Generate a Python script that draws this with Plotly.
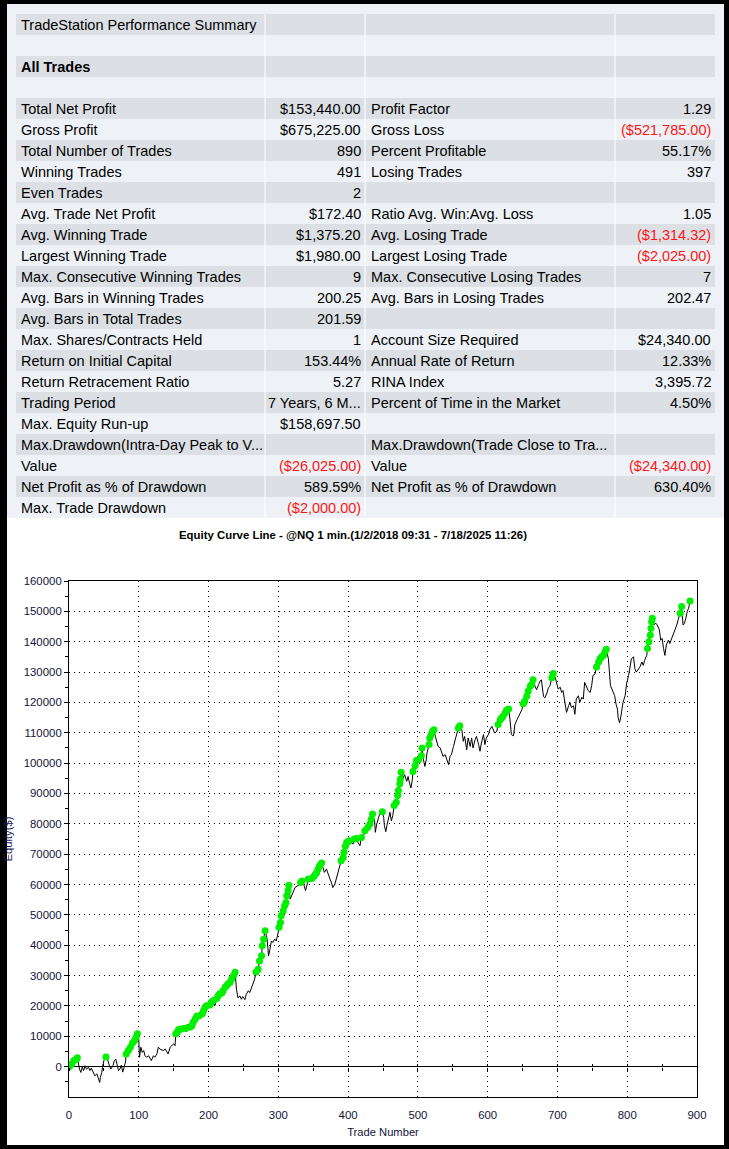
import numpy as np
import plotly.graph_objects as go

W, H = 729, 1149

# ---------------- data: equity curve (trade number, cumulative equity $) ----------------
trade_number = [
    0, 1, 4, 7, 11, 12, 15, 17, 19, 21, 23, 25, 28, 30, 32, 35, 37, 40, 42, 44, 45, 47, 48, 50,
    53, 55, 58, 60, 63, 65, 67, 69, 71, 73, 75, 77, 79, 81, 82, 85, 88, 91, 94, 96, 98, 100,
    101, 103, 105, 107, 109, 111, 114, 116, 118, 121, 123, 126, 128, 130, 133, 135, 138, 140,
    142, 145, 147, 150, 152, 153, 155, 157, 160, 163, 166, 169, 171, 174, 176, 178, 181, 183,
    187, 189, 191, 193, 195, 197, 200, 202, 204, 207, 209, 212, 214, 216, 219, 221, 224, 226,
    228, 231, 233, 236, 238, 240, 242, 245, 247, 249, 252, 254, 257, 259, 261, 264, 266, 268,
    271, 273, 276, 277, 279, 281, 284, 286, 288, 290, 292, 295, 297, 300, 301, 303, 304, 307,
    309, 311, 312, 314, 315, 317, 320, 322, 324, 327, 329, 332, 334, 337, 339, 342, 343, 346,
    348, 351, 353, 355, 357, 359, 362, 364, 366, 369, 371, 374, 376, 378, 381, 383, 386, 388,
    390, 393, 394, 396, 398, 400, 402, 405, 407, 409, 412, 414, 417, 419, 421, 424, 426, 428,
    431, 433, 435, 438, 439, 441, 443, 445, 449, 451, 452, 454, 456, 458, 460, 462, 464, 466,
    469, 471, 472, 474, 475, 476, 479, 481, 484, 486, 488, 490, 492, 493, 496, 498, 501, 503,
    505, 506, 508, 510, 512, 513, 516, 517, 519, 521, 523, 525, 527, 529, 532, 534, 536, 539,
    541, 544, 546, 548, 551, 553, 556, 558, 560, 563, 565, 567, 570, 572, 575, 577, 579, 582,
    584, 587, 589, 591, 594, 596, 598, 601, 603, 606, 608, 610, 613, 615, 618, 620, 622, 625,
    627, 630, 632, 634, 637, 639, 642, 644, 646, 649, 651, 653, 656, 658, 661, 663, 665, 668,
    670, 673, 675, 677, 680, 682, 685, 687, 689, 692, 694, 697, 699, 701, 704, 706, 708, 711,
    713, 716, 718, 720, 723, 725, 727, 730, 732, 735, 737, 739, 742, 744, 747, 749, 751, 754,
    756, 759, 761, 763, 766, 768, 770, 773, 774, 776, 778, 780, 782, 784, 786, 787, 789, 791,
    792, 794, 797, 799, 802, 804, 806, 809, 811, 813, 816, 818, 821, 823, 825, 828, 829, 831,
    833, 834, 835, 836, 838, 841, 843, 846, 848, 850, 852, 854, 856, 859, 861, 864, 866, 868,
    871, 873, 876, 878, 880, 882, 884, 886, 888, 890,
]
equity = [
    0, 300, 900, 2000, 2500, 2900, -800, -1900, -200, -1300, 300, -800, -200, -1300, -500, -1900,
    -3000, -2400, -4100, -5200, -3500, -1900, -200, 2000, 3200, 2500, 300, -800, 300, 2000, 2500,
    900, -1300, -800, 500, -1800, 0, 1500, 4200, 5300, 6400, 7800, 8600, 9700, 10800, 9100, 3100,
    6400, 4700, 5300, 3600, 3100, 3600, 2500, 2000, 3600, 3100, 4200, 6400, 5800, 5500, 5300, 5800,
    4700, 4200, 6400, 6900, 7500, 6900, 10800, 11300, 12200, 12300, 12500, 12600, 11600, 13000,
    13100, 13500, 14600, 15700, 16600, 16800, 16200, 17400, 18500, 19600, 20100, 19600, 20300,
    21200, 21800, 20100, 22500, 23400, 24000, 24300, 25100, 26200, 26700, 27300, 27800, 28900,
    30000, 31100, 25500, 22700, 23300, 22200, 23100, 22100, 23800, 25000, 24400, 25500, 27700,
    28800, 31200, 32100, 34800, 36500, 39800, 42000, 44800, 42000, 36500, 38700, 41400, 40900,
    42000, 41400, 44200, 45900, 47500, 49700, 51400, 53000, 54100, 56300, 58000, 59800, 55200,
    56900, 57600, 59000, 59500, 59700, 60700, 61200, 59600, 58000, 60700, 61800, 61600, 62000,
    62700, 63400, 64000, 65100, 66200, 67100, 65600, 64000, 65100, 63400, 61800, 60700, 59000,
    60100, 61800, 64000, 65600, 67800, 68900, 70600, 72600, 73900, 74100, 74400, 73900, 73300,
    75000, 75200, 73900, 72800, 75500, 75000, 77700, 77400, 78800, 79900, 81400, 83200, 81000,
    77200, 79900, 82100, 83100, 84000, 82100, 79400, 77400, 79900, 82500, 83800, 81000, 82700,
    86000, 87100, 89300, 91000, 93200, 94800, 97000, 95100, 96200, 94000, 95600, 93400, 91800,
    94500, 97200, 99100, 100900, 101100, 100600, 102400, 105000, 101100, 98900, 101100, 103300,
    106100, 108300, 109400, 110500, 111000, 108800, 106600, 105500, 105000, 103300, 102200,
    102800, 101100, 99500, 102200, 102800, 105500, 107700, 109900, 111600, 112300, 111000,
    107200, 108800, 104400, 108300, 105500, 108300, 105000, 107700, 108800, 106100, 103900,
    106600, 109400, 106100, 108300, 109400, 111000, 112100, 111000, 109900, 110500, 112700,
    114300, 114900, 115400, 116500, 117400, 117800, 114300, 109400, 109000, 112700, 114300,
    115400, 116500, 117600, 119600, 120400, 122000, 123700, 125300, 125900, 127500, 125300,
    124200, 125900, 127000, 127400, 122000, 121500, 123100, 124800, 125300, 128100, 129500,
    128100, 126400, 124400, 125000, 123300, 123900, 120000, 116700, 118900, 120000, 118300,
    118900, 116100, 121100, 122200, 120000, 121700, 121100, 126600, 125000, 123900, 123300,
    125500, 128900, 129400, 131700, 133300, 134400, 135000, 135500, 136600, 137500, 134400,
    130000, 125500, 124400, 123300, 122200, 119400, 117800, 115000, 113300, 115500, 117800,
    120000, 122200, 126100, 128900, 131100, 134400, 135000, 131100, 130000, 131100, 131600,
    133300, 132200, 133900, 135500, 137800, 140000, 142200, 144400, 146600, 147700, 145500,
    146100, 145500, 143900, 140500, 141100, 137800, 135500, 138900, 140500, 139400, 141100,
    142200, 143900, 145500, 147200, 149400, 151600, 145500, 146100, 147700, 150000, 151000,
    153440,
]

# ---------------- data: performance summary table ----------------
label_col1 = [
    "TradeStation Performance Summary", "", "<b>All Trades</b>", "",
    "Total Net Profit", "Gross Profit", "Total Number of Trades", "Winning Trades",
    "Even Trades", "Avg. Trade Net Profit", "Avg. Winning Trade", "Largest Winning Trade",
    "Max. Consecutive Winning Trades", "Avg. Bars in Winning Trades", "Avg. Bars in Total Trades",
    "Max. Shares/Contracts Held", "Return on Initial Capital", "Return Retracement Ratio",
    "Trading Period", "Max. Equity Run-up", "Max.Drawdown(Intra-Day Peak to V...", "Value",
    "Net Profit as % of Drawdown", "Max. Trade Drawdown",
]
value_col2 = [
    "", "", "", "",
    "$153,440.00", "$675,225.00", "890", "491", "2", "$172.40", "$1,375.20", "$1,980.00",
    "9", "200.25", "201.59", "1", "153.44%", "5.27", "7 Years, 6 M...", "$158,697.50", "",
    "($26,025.00)", "589.59%", "($2,000.00)",
]
label_col3 = [
    "", "", "", "",
    "Profit Factor", "Gross Loss", "Percent Profitable", "Losing Trades", "",
    "Ratio Avg. Win:Avg. Loss", "Avg. Losing Trade", "Largest Losing Trade",
    "Max. Consecutive Losing Trades", "Avg. Bars in Losing Trades", "", "Account Size Required",
    "Annual Rate of Return", "RINA Index", "Percent of Time in the Market", "",
    "Max.Drawdown(Trade Close to Tra...", "Value", "Net Profit as % of Drawdown", "",
]
value_col4 = [
    "", "", "", "",
    "1.29", "($521,785.00)", "55.17%", "397", "", "1.05", "($1,314.32)", "($2,025.00)",
    "7", "202.47", "", "$24,340.00", "12.33%", "3,395.72", "4.50%", "", "",
    "($24,340.00)", "630.40%", "",
]

chart_title = "Equity Curve Line - @NQ 1 min.(1/2/2018 09:31 - 7/18/2025 11:26)"
x_title = "Trade Number"
y_title = "Equity($)"
x_tick_values = list(range(0, 901, 100))
y_tick_values = list(range(0, 160001, 10000))
y_minor_values = list(range(-5000, 160000, 10000))

# ---------------- styling ----------------
FONT = "Liberation Sans, Arial, Helvetica, sans-serif"
GRAY_ROW = "#dce0e5"
LIGHT_ROW = "#eef2f6"
RED = "#ff1414"
TICK_COLOR = "#14143a"
GREEN = "#00f000"


def fx(p):
    return p / W


def fy(p):
    return 1 - p / H


fig = go.Figure()

eq = np.array(equity, dtype=float)
tn = np.array(trade_number, dtype=float)
new_high = eq >= np.maximum.accumulate(eq)

fig.add_trace(go.Scatter(x=tn, y=eq, mode="lines",
                         line=dict(color="black", width=1), hoverinfo="skip"))
fig.add_trace(go.Scatter(x=tn[new_high], y=eq[new_high], mode="markers",
                         marker=dict(color=GREEN, size=7, line=dict(width=0))))
# empty carrier traces so the zero-line tick axes are drawn
for ax in ("x2", "x3"):
    fig.add_trace(go.Scatter(x=[tn[0]], y=[None], xaxis=ax, yaxis="y", mode="lines",
                             hoverinfo="skip", showlegend=False))

shapes = []
# white page inside black frame
shapes.append(dict(type="rect", xref="paper", yref="paper", layer="below",
                   x0=fx(7), x1=fx(724), y0=fy(1145), y1=fy(4),
                   fillcolor="white", line=dict(width=0)))
# light panel behind table
shapes.append(dict(type="rect", xref="paper", yref="paper", layer="below",
                   x0=fx(7), x1=fx(724), y0=fy(518), y1=fy(4),
                   fillcolor=LIGHT_ROW, line=dict(width=0)))

col_edges = [16, 265, 365, 615, 715]
row_top, row_h = 14, 21
n_rows = len(label_col1)
for i in range(n_rows):
    top = row_top + i * row_h
    shapes.append(dict(type="rect", xref="paper", yref="paper", layer="below",
                       x0=fx(col_edges[0]), x1=fx(col_edges[-1]),
                       y0=fy(top + row_h), y1=fy(top),
                       fillcolor=GRAY_ROW if i % 2 == 0 else LIGHT_ROW,
                       line=dict(width=0)))
for xe in col_edges[1:-1]:
    shapes.append(dict(type="line", xref="paper", yref="paper", layer="below",
                       x0=fx(xe), x1=fx(xe), y0=fy(row_top + n_rows * row_h), y1=fy(row_top),
                       line=dict(color="white", width=1)))

annotations = []


def cell(text, xpix, anchor, ycen, color="black"):
    if not text:
        return
    annotations.append(dict(text=text, xref="paper", yref="paper", x=fx(xpix), y=fy(ycen),
                            xanchor=anchor, yanchor="middle", showarrow=False, borderpad=0,
                            font=dict(family=FONT, size=14.5, color=color)))


for i in range(n_rows):
    yc = row_top + i * row_h + row_h / 2 + 0.5
    cell(label_col1[i], 19.5, "left", yc)
    v = value_col2[i]
    cell(v, 362, "right", yc, RED if v.startswith("(") else "black")
    cell(label_col3[i], 369.5, "left", yc)
    v = value_col4[i]
    cell(v, 712, "right", yc, RED if v.startswith("(") else "black")

annotations.append(dict(text="<b>" + chart_title + "</b>", xref="paper", yref="paper",
                        x=fx(352.5), y=fy(535), xanchor="center", yanchor="middle",
                        showarrow=False, font=dict(family=FONT, size=11.4, color="black")))

y_dom = [fy(1097), fy(581)]
y_range = [-10000, 160000]
zero_pos = y_dom[0] + (0 - y_range[0]) / (y_range[1] - y_range[0]) * (y_dom[1] - y_dom[0])

tick_font = dict(family=FONT, size=11.4, color=TICK_COLOR)
common_grid = dict(showgrid=True, gridcolor="black", gridwidth=1, griddash="1px,4px",
                   showline=True, linecolor="black", linewidth=1, mirror=True,
                   automargin=False)
zero_ticks = dict(overlaying="x", anchor="free", position=zero_pos, range=[0, 900],
                  tickmode="linear", tick0=0, dtick=50, ticklen=3, tickwidth=1,
                  tickcolor="black", showticklabels=False, showgrid=False,
                  showline=False, zeroline=False)

fig.update_layout(
    width=W, height=H, autosize=False,
    margin=dict(l=0, r=0, t=0, b=0, pad=0),
    paper_bgcolor="black", plot_bgcolor="white",
    showlegend=False,
    shapes=shapes, annotations=annotations,
    xaxis=dict(domain=[fx(69), fx(697)], range=[0, 900], tickmode="array",
               tickvals=x_tick_values, ticks="outside", ticklen=7,
               tickcolor="rgba(0,0,0,0)", zeroline=False, tickfont=tick_font,
               title=dict(text=x_title, font=dict(family=FONT, size=11.2, color=TICK_COLOR),
                          standoff=8),
               **common_grid),
    yaxis=dict(domain=y_dom, range=y_range, tickmode="array", tickvals=y_tick_values,
               tickformat="d", ticks="outside", ticklen=4, tickcolor="black",
               minor=dict(tickmode="array", tickvals=y_minor_values, ticks="outside",
                          ticklen=3, tickcolor="black", showgrid=False),
               zeroline=True, zerolinecolor="black", zerolinewidth=1, tickfont=tick_font,
               title=dict(text=y_title, font=dict(family=FONT, size=11.2, color="#1c1c5c"),
                          standoff=8),
               **common_grid),
    xaxis2=dict(ticks="outside", **zero_ticks),
    xaxis3=dict(ticks="inside", **zero_ticks),
)

fig.write_html("out.html")
